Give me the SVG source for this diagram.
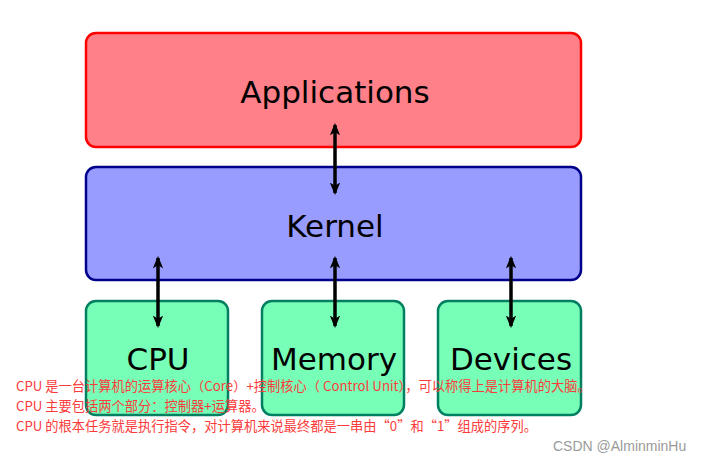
<svg xmlns="http://www.w3.org/2000/svg" width="711" height="462" viewBox="0 0 711 462">
<style>
.lbl{font-family:"DejaVu Sans",sans-serif;fill:#000;text-anchor:middle}
.big{font-size:31px}
.note{font-family:"Microsoft YaHei","Noto Sans CJK SC",sans-serif;font-size:13.25px;fill:#fc3b3b}
.wm{font-family:"Liberation Sans","Noto Sans CJK SC",sans-serif;font-size:14px;fill:#9a9a9a}
.dev{fill:#77ffb8;stroke:#008060;stroke-width:2.5}
.conn{stroke:#000;stroke-width:3.5;fill:none;marker-start:url(#ah);marker-end:url(#ah)}
</style>
<defs>
<marker id="ah" viewBox="0 0 12 10" refX="10" refY="5" markerWidth="3.6" markerHeight="3" orient="auto-start-reverse" markerUnits="strokeWidth">
<path d="M0,0 L12,5 L0,10 L3,5 Z" fill="#000"/>
</marker>
</defs>
<rect width="711" height="462" fill="#fff"/>
<g id="applications">
<rect x="86" y="33" width="495" height="114" rx="10" fill="#ff8088" stroke="#ff0000" stroke-width="2.5"/>
<text class="lbl big" x="335" y="103">Applications</text>
</g>
<g id="kernel">
<rect x="86" y="167" width="495" height="113" rx="10" fill="#999cff" stroke="#00008b" stroke-width="2.5"/>
<text class="lbl big" x="335" y="237">Kernel</text>
</g>
<g id="cpu">
<rect class="dev" x="86" y="301" width="142" height="114" rx="10"/>
<text class="lbl big" x="158" y="370">CPU</text>
</g>
<g id="memory">
<rect class="dev" x="262" y="301" width="142" height="114" rx="10"/>
<text class="lbl big" x="334" y="370">Memory</text>
</g>
<g id="devices">
<rect class="dev" x="438" y="301" width="143" height="114" rx="10"/>
<text class="lbl big" x="511" y="370">Devices</text>
</g>
<g id="connectors">
<line class="conn" x1="335" y1="125" x2="335" y2="193"/>
<line class="conn" x1="158" y1="258" x2="158" y2="326"/>
<line class="conn" x1="335" y1="258" x2="335" y2="326"/>
<line class="conn" x1="511" y1="258" x2="511" y2="326"/>
</g>
<g id="notes">
<text class="note" x="16" y="391">CPU 是一台计算机的运算核心（Core）+控制核心（ Control Unit），可以称得上是计算机的大脑。</text>
<text class="note" x="16" y="411">CPU 主要包括两个部分：控制器+运算器。</text>
<text class="note" x="16" y="431">CPU 的根本任务就是执行指令，对计算机来说最终都是一串由“0”和“1”组成的序列。</text>
</g>
<text class="wm" x="553" y="451">CSDN @AlminminHu</text>
</svg>
